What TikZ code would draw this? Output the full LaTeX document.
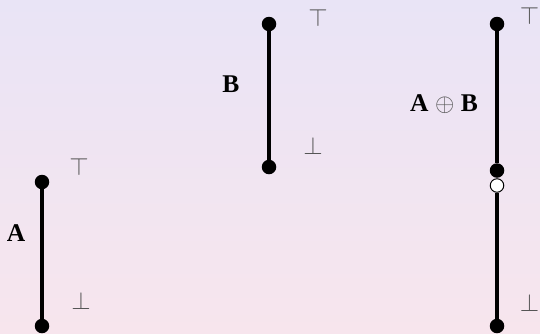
\documentclass[tikz,border=0pt]{standalone}
\usepackage{fontspec}
\setmainfont{Liberation Serif}
\definecolor{bgtop}{HTML}{E9E4F6}
\definecolor{bgbot}{HTML}{F7E5ED}
\definecolor{symgray}{HTML}{555555}
\tikzset{
  dot/.style={circle, fill=black, inner sep=0pt, minimum size=14.5pt},
  opendot/.style={circle, fill=white, draw=black, line width=1pt, inner sep=0pt, minimum size=13.5pt},
  seg/.style={line width=3.2pt, black},
  lbl/.style={inner sep=0pt, font=\fontsize{25.5}{30}\selectfont\bfseries},
  sym/.style={inner sep=0pt, text=symgray, font=\fontsize{24}{28}\selectfont},
}
\begin{document}
\begin{tikzpicture}[x=1pt, y=-1pt]
\shade[top color=bgtop, bottom color=bgbot] (0,0) rectangle (540,333);
\useasboundingbox (0,0) rectangle (540,333);

% A
\node[dot] (a1) at (42,182) {};
\node[dot] (a2) at (42,326) {};
\draw[seg] (a1) -- (a2);
\node[lbl] (la) at (16,233) {A};
\node[sym] (ta) at (79,167) {$\top$};
\node[sym] (ba) at (81,301) {$\bot$};

% B
\node[dot] (b1) at (269,24) {};
\node[dot] (b2) at (269,167) {};
\draw[seg] (b1) -- (b2);
\node[lbl] (lb) at (231,84) {B};
\node[sym] (tb) at (318,18) {$\top$};
\node[sym] (bb) at (313,146) {$\bot$};

% A + B
\node[dot] (c1) at (497,24) {};
\node[dot] (c2) at (497,170.5) {};
\node[opendot] (c3) at (497,185.5) {};
\node[dot] (c4) at (497,326) {};
\draw[seg] (c1) -- (c2);
\draw[seg] (c3) -- (c4);
\node[lbl] (lc) at (444,104) {A {\color{symgray}\mdseries$\oplus$} B};
\node[sym] (tc) at (529.5,16) {$\top$};
\node[sym] (bc) at (529.5,303) {$\bot$};
\end{tikzpicture}
\end{document}
